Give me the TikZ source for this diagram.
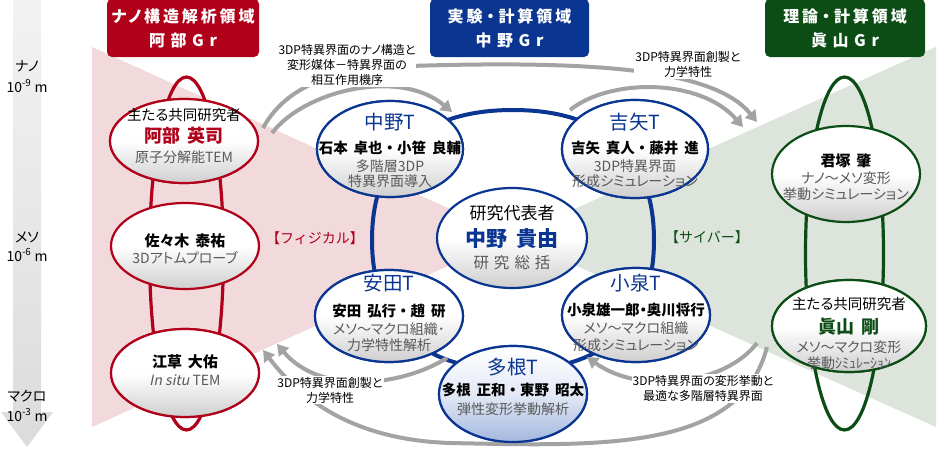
\documentclass[tikz,border=0pt]{standalone}
\usepackage{fontspec}
\setmainfont{Noto Sans CJK JP}[AutoFakeSlant=0.2,RawFeature={+palt}]
\newfontfamily\fullw{Noto Sans CJK JP}
\usetikzlibrary{shapes.geometric,arrows.meta}
\definecolor{cred}{HTML}{B0001A}
\definecolor{cblue}{HTML}{0A3591}
\definecolor{cgreen}{HTML}{0B4D14}
\definecolor{cpink}{HTML}{F1D9DC}
\definecolor{cgbg}{HTML}{DCE4DB}
\definecolor{cgrey}{HTML}{A3A3A3}
\definecolor{ctxt}{HTML}{595959}
\definecolor{ctane}{HTML}{A3B7DF}
\newcommand{\fsz}[1]{\fontsize{#1}{#1}\selectfont}
\newcommand{\js}{\hspace{0.4em}}
\newcommand{\fdot}{{\fullw ・}}
\begin{document}
\begin{tikzpicture}[x=1pt,y=-1pt,
 every node/.style={inner sep=0pt},
 hdr/.style={rounded corners=5pt, minimum height=58, text=white, align=center,
   font=\fontsize{16}{24}\selectfont\bfseries\addfontfeature{LetterSpace=18}},
 ell/.style={ellipse, line width=2.2pt, top color=white, bottom color=gray!38, middle color=white},
 rell/.style={ell, draw=cred},
 bell/.style={ell, draw=cblue},
 gell/.style={ell, draw=cgreen},
 scl/.style={font=\fsz{14}},
 nm/.style={font=\fsz{14.5}\bfseries},
 gt/.style={font=\fsz{14}, text=ctxt},
 tt/.style={font=\fsz{19.5}, text=cblue},
 lbl/.style={font=\fontsize{12}{15}\selectfont, align=center, fill=white, inner sep=1pt},
 garrow/.style={draw=cgrey, line width=4pt, -{Triangle[length=11pt,width=13pt]}},
 loop/.style={line width=3.2pt},
]
\useasboundingbox (0,0) rectangle (950,450);
\fill[white] (0,0) rectangle (950,450);

% scale arrow
\shade[top color=gray!10, bottom color=gray!28] (13,0) -- (41,0) -- (41,412) -- (53,412) -- (27,447) -- (1,412) -- (13,412) -- cycle;
\node[scl] (s1) at (27,66) {ナノ};
\node[scl] (s2) at (27,86) {10\textsuperscript{-9} m};
\node[scl] (s3) at (27,237) {メソ};
\node[scl] (s4) at (27,255) {10\textsuperscript{-6} m};
\node[scl] (s5) at (27,396) {マクロ};
\node[scl] (s6) at (27,415) {10\textsuperscript{-3} m};

% background triangles
\fill[cpink] (92,47) -- (512,237) -- (92,427) -- cycle;
\fill[cgbg] (936,47) -- (512,237) -- (936,427) -- cycle;

% headers
\node[hdr, fill=cred, minimum width=152] (hr) at (183,28) {ナノ構造解析領域\\{\addfontfeature{LetterSpace=35}阿部Gr}};
\node[hdr, fill=cblue, minimum width=159] (hb) at (509.5,28) {実験\fdot 計算領域\\{\addfontfeature{LetterSpace=35}中野Gr}};
\node[hdr, fill=cgreen, minimum width=160] (hg) at (845,28) {理論\fdot 計算領域\\{\addfontfeature{LetterSpace=35}眞山Gr}};

% loops
\draw[loop, cred] (186.5,253.5) ellipse [x radius=37, y radius=176.5];
\draw[loop, cgreen] (844.5,253.5) ellipse [x radius=39, y radius=176.5];
\draw[line width=4pt, cblue] (513,110) .. controls (604.65,110) and (654,155.5) .. (654,240)
  .. controls (654,324.5) and (604.65,370) .. (513,370)
  .. controls (421.35,370) and (372,324.5) .. (372,240)
  .. controls (372,155.5) and (421.35,110) .. (513,110) -- cycle;

% nodes
\node[rell, minimum width=148, minimum height=84] (abe) at (184,141) {};
\node[rell, minimum width=148, minimum height=86] (sasaki) at (185,246) {};
\node[rell, minimum width=148, minimum height=88] (egusa) at (185,373) {};
\node[gell, minimum width=148, minimum height=96] (kimi) at (846,174) {};
\node[gell, minimum width=154, minimum height=92] (maya) at (849,326) {};
\node[bell, minimum width=146, minimum height=96] (nakT) at (390,149) {};
\node[bell, minimum width=146, minimum height=98] (yosT) at (635,149) {};
\node[bell, minimum width=150, minimum height=100] (ctr) at (512,238) {};
\node[bell, minimum width=148, minimum height=92] (yasT) at (389,316) {};
\node[bell, minimum width=148, minimum height=94] (koiT) at (636,315) {};
\node[ellipse, line width=2.2pt, draw=cblue, top color=white, bottom color=ctane, middle color=white!70!ctane, minimum width=148, minimum height=96] (tanT) at (513,394) {};

% arrow tips
\coordinate (t1) at (452,112);
\coordinate (t2) at (757,122);
\coordinate (t3) at (743,127);
\coordinate (t4) at (277,344);
\coordinate (t5) at (263,350);
\coordinate (t6) at (587,357);

% grey arrows
\draw[garrow] ([shift={(88,-8)}]abe.center) .. controls (305,90) and (400,68) .. (t1);
\draw[garrow] ([shift={(79,-13)}]abe.center) .. controls (285,88) and (330,68) .. (410,66) .. controls (600,60) and (715,70) .. (t2);
\draw[garrow] ([shift={(-65,-39)}]yosT.center) .. controls (610,78) and (700,78) .. (t3);
\draw[garrow] ([shift={(58,42)}]yasT.center) .. controls (400,387) and (320,395) .. (t4);
\draw[garrow] ([shift={(-82,21)}]maya.center) .. controls (740,452) and (600,446) .. (450,443) .. controls (360,440) and (305,405) .. (t5);
\draw[garrow] ([shift={(-92,17)}]maya.center) .. controls (725,385) and (640,395) .. (t6);

% arrow labels
\node[lbl] (l1) at (347,65) {3DP特異界面のナノ構造と\\変形媒体－特異界面の\\相互作用機序};
\node[lbl] (l2) at (688,64.5) {3DP特異界面創製と\\力学特性};
\node[lbl] (l3) at (330,390) {3DP特異界面創製と\\力学特性};
\node[lbl] (l4) at (703,388.5) {3DP特異界面の変形挙動と\\最適な多階層特異界面};

% redraw nodes over arrows
\node[rell, minimum width=148, minimum height=84] at (abe) {};
\node[rell, minimum width=148, minimum height=88] at (egusa) {};
\node[bell, minimum width=146, minimum height=96] at (nakT) {};
\node[bell, minimum width=146, minimum height=98] at (yosT) {};
\node[bell, minimum width=148, minimum height=92] at (yasT) {};
\node[bell, minimum width=148, minimum height=94] at (koiT) {};
\node[ellipse, line width=2.2pt, draw=cblue, top color=white, bottom color=ctane, middle color=white!70!ctane, minimum width=148, minimum height=96] at (tanT) {};
\node[gell, minimum width=154, minimum height=92] at (maya) {};

% texts
\node[font=\fsz{14.5}] (abe1) at (184,115) {主たる共同研究者};
\node[font=\fsz{18}\bfseries, text=cred] (abe2) at (184,136) {阿部\js 英司};
\node[gt] (abe3) at (184,157) {原子分解能TEM};
\node[nm, font=\fsz{15}\bfseries] (sas1) at (185,241) {佐々木\js 泰祐};
\node[gt] (sas2) at (185,258) {3Dアトムプローブ};
\node[nm, font=\fsz{15}\bfseries] (egu1) at (185,362) {江草\js 大佑};
\node[gt] (egu2) at (185,380) {\textit{In situ} TEM};

\node[nm, font=\fsz{15}\bfseries] (kim1) at (846,161) {君塚\js 肇};
\node[gt] (kim2) at (846,178) {ナノ～メソ変形};
\node[gt] (kim3) at (846,194) {挙動シミュレーション};
\node[font=\fsz{14.5}] (may1) at (849,304) {主たる共同研究者};
\node[font=\fsz{18}\bfseries, text=cgreen] (may2) at (849,327) {眞山\js 剛};
\node[gt] (may3) at (849,347) {メソ～マクロ変形};
\node[gt] (may4) at (849,363) {挙動ｼﾐｭﾚｰｼｮﾝ};

\node[tt] (nak1) at (390,122) {中野T};
\node[nm] (nak2) at (390,148) {石本\js 卓也\fdot 小笹\js 良輔};
\node[gt] (nak3) at (390,166) {多階層3DP};
\node[gt] (nak4) at (390,181) {特異界面導入};

\node[tt] (yos1) at (635,122) {吉矢T};
\node[nm] (yos2) at (635,148) {吉矢\js 真人\fdot 藤井\js 進};
\node[gt] (yos3) at (635,166) {3DP特異界面};
\node[gt] (yos4) at (635,181) {形成シミュレーション};

\node[font=\fsz{17}] (ctr1) at (512,213) {研究代表者};
\node[font=\fsz{21}\bfseries, text=cblue] (ctr2) at (512,239) {中野\js 貴由};
\node[font=\fsz{15.5}, text=ctxt] (ctr3) at (512,263) {研\hspace{5pt}究\hspace{5pt}総\hspace{5pt}括};

\node[tt] (yas1) at (389,283) {安田T};
\node[nm] (yas2) at (389,311) {安田\js 弘行\fdot 趙\js 研};
\node[gt] (yas3) at (389,329) {メソ～マクロ組織･};
\node[gt] (yas4) at (389,345) {力学特性解析};

\node[tt] (koi1) at (636,283) {小泉T};
\node[nm] (koi2) at (636,310) {小泉雄一郎・奥川将行};
\node[gt] (koi3) at (636,328) {メソ～マクロ組織};
\node[gt] (koi4) at (636,345) {形成シミュレーション};

\node[tt] (tan1) at (513,367) {多根T};
\node[nm] (tan2) at (513,390) {多根\js 正和\fdot 東野\js 昭太};
\node[gt] (tan3) at (513,409) {弾性変形挙動解析};

% side labels
\node[font=\fullw\fsz{14}, text=cred] (phys) at (315,238) {【フィジカル】};
\node[font=\fullw\fsz{14}, text=cgreen] (cyb) at (707,237) {【サイバー】};
\end{tikzpicture}
\end{document}
